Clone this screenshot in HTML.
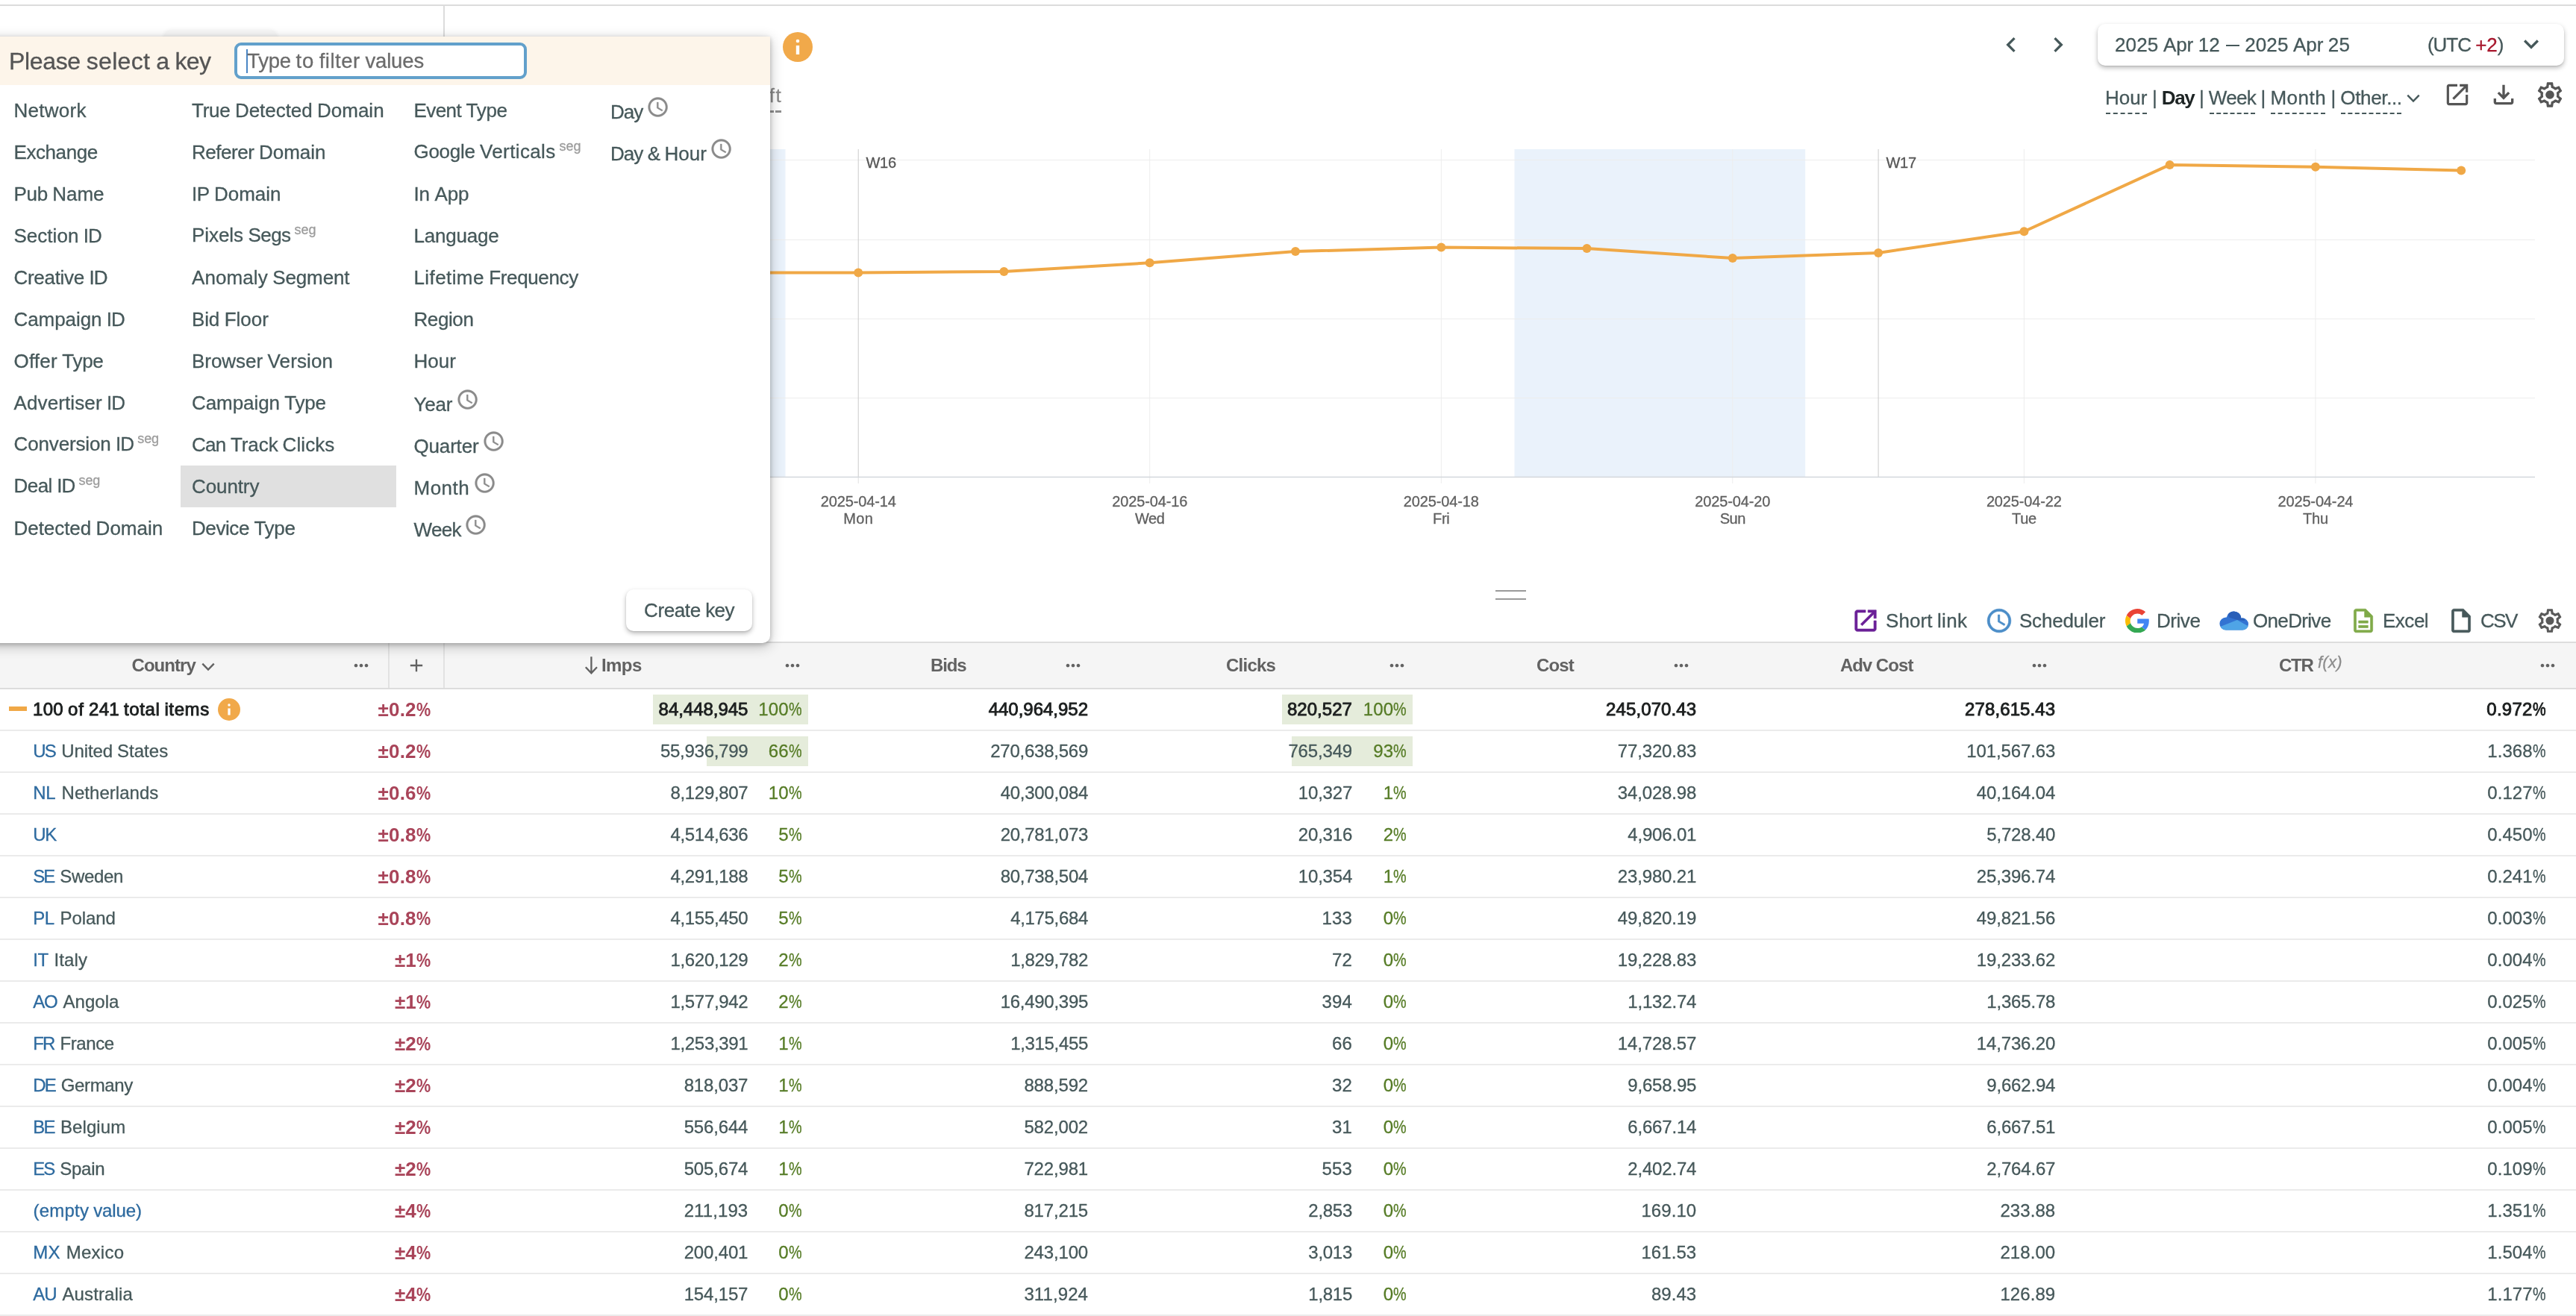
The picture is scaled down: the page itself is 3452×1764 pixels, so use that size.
<!DOCTYPE html>
<html><head><meta charset="utf-8"><title>Report</title>
<style>
html,body{margin:0;padding:0}
body{width:3452px;height:1764px;position:relative;overflow:hidden;background:#fff;font-family:"Liberation Sans",sans-serif;}
.t{position:absolute;white-space:pre;display:block;-webkit-text-stroke:0.3px}
.b{position:absolute;display:block}
#w{position:absolute;left:0;top:0;width:3452px;height:1764px;overflow:hidden;will-change:transform}
</style></head><body><div id="w">
<div class="b" style="left:0px;top:6px;width:3452px;height:2px;background:#dcdcdc;"></div>
<div class="b" style="left:594px;top:8px;width:2px;height:60px;background:#dcdcdc;"></div>
<div class="b" style="left:219px;top:40px;width:153px;height:30px;background:#f7f7f7;border-radius:11px;box-shadow:0 0 5px rgba(0,0,0,.06);"></div>
<span class="t" style="font-size:26px;line-height:26px;color:#8a8a8a;top:114.99px;left:1030.80px;letter-spacing:1.555px;">ft</span>
<div class="b" style="left:1032px;top:148px;width:5px;height:3px;background:#8f8f8f;"></div>
<div class="b" style="left:1039px;top:148px;width:8px;height:3px;background:#8f8f8f;"></div>
<svg class="b" style="left:1049.0px;top:43.0px" width="40" height="40" viewBox="-20 -20 40 40"><circle r="20" fill="#f1a94a"/><circle cy="-8" r="2.300" fill="#fff"/><rect x="-2.200" y="-2" width="4.400" height="12" fill="#fff"/></svg>
<svg class="b" style="left:0;top:0" width="3452" height="800" viewBox="0 0 3452 800"><rect x="900" y="200" width="152.5" height="439" fill="#eaf2fb"/><rect x="2029.5" y="200" width="389.7" height="439" fill="#eaf2fb"/><line x1="900" x2="3397" y1="214.5" y2="214.5" stroke="#ededed" stroke-width="1"/><line x1="900" x2="3397" y1="321.5" y2="321.5" stroke="#ededed" stroke-width="1"/><line x1="900" x2="3397" y1="427.5" y2="427.5" stroke="#ededed" stroke-width="1"/><line x1="900" x2="3397" y1="533.5" y2="533.5" stroke="#ededed" stroke-width="1"/><line x1="1540.7" x2="1540.7" y1="200" y2="648" stroke="#ededed" stroke-width="1"/><line x1="1931.3" x2="1931.3" y1="200" y2="648" stroke="#ededed" stroke-width="1"/><line x1="2321.8" x2="2321.8" y1="200" y2="648" stroke="#ededed" stroke-width="1"/><line x1="2712.4" x2="2712.4" y1="200" y2="648" stroke="#ededed" stroke-width="1"/><line x1="3102.9" x2="3102.9" y1="200" y2="648" stroke="#ededed" stroke-width="1"/><line x1="1150.2" x2="1150.2" y1="200" y2="639" stroke="#cacaca" stroke-width="1"/><line x1="1150.2" x2="1150.2" y1="639" y2="648" stroke="#e0e0e0" stroke-width="1"/><line x1="2517.1" x2="2517.1" y1="200" y2="639" stroke="#cacaca" stroke-width="1"/><line x1="900" x2="3397" y1="639.5" y2="639.5" stroke="#d3d7dc" stroke-width="1.4"/><polyline fill="none" stroke="#f0a846" stroke-width="4" stroke-linejoin="round" points="954.9,365.6 1150.2,365.4 1345.4,363.9 1540.7,352.3 1736,337.1 1931.3,331.6 2126.5,333.1 2321.8,346.1 2517.1,338.9 2712.4,310.2 2907.6,220.9 3102.9,223.7 3298.2,228.5"/><circle cx="954.9" cy="365.6" r="6" fill="#f0a846"/><circle cx="1150.2" cy="365.4" r="6" fill="#f0a846"/><circle cx="1345.4" cy="363.9" r="6" fill="#f0a846"/><circle cx="1540.7" cy="352.3" r="6" fill="#f0a846"/><circle cx="1736" cy="337.1" r="6" fill="#f0a846"/><circle cx="1931.3" cy="331.6" r="6" fill="#f0a846"/><circle cx="2126.5" cy="333.1" r="6" fill="#f0a846"/><circle cx="2321.8" cy="346.1" r="6" fill="#f0a846"/><circle cx="2517.1" cy="338.9" r="6" fill="#f0a846"/><circle cx="2712.4" cy="310.2" r="6" fill="#f0a846"/><circle cx="2907.6" cy="220.9" r="6" fill="#f0a846"/><circle cx="3102.9" cy="223.7" r="6" fill="#f0a846"/><circle cx="3298.2" cy="228.5" r="6" fill="#f0a846"/></svg>
<span class="t" style="font-size:20px;line-height:20px;color:#555;top:207.87px;left:1160.50px;letter-spacing:-0.302px;">W16</span>
<span class="t" style="font-size:20px;line-height:20px;color:#555;top:207.87px;left:2527.50px;letter-spacing:-0.302px;">W17</span>
<span class="t" style="font-size:20px;line-height:20px;color:#606060;top:662.07px;left:1099.73px;letter-spacing:-0.138px;">2025-04-14</span>
<span class="t" style="font-size:20px;line-height:20px;color:#606060;top:685.07px;left:1130.24px;letter-spacing:0.339px;">Mon</span>
<span class="t" style="font-size:20px;line-height:20px;color:#606060;top:662.07px;left:1490.27px;letter-spacing:-0.138px;">2025-04-16</span>
<span class="t" style="font-size:20px;line-height:20px;color:#606060;top:685.07px;left:1521.07px;letter-spacing:-0.474px;">Wed</span>
<span class="t" style="font-size:20px;line-height:20px;color:#606060;top:662.07px;left:1880.81px;letter-spacing:-0.138px;">2025-04-18</span>
<span class="t" style="font-size:20px;line-height:20px;color:#606060;top:685.07px;left:1920.05px;letter-spacing:-0.286px;">Fri</span>
<span class="t" style="font-size:20px;line-height:20px;color:#606060;top:662.07px;left:2271.35px;letter-spacing:-0.138px;">2025-04-20</span>
<span class="t" style="font-size:20px;line-height:20px;color:#606060;top:685.07px;left:2304.84px;letter-spacing:-0.547px;">Sun</span>
<span class="t" style="font-size:20px;line-height:20px;color:#606060;top:662.07px;left:2661.89px;letter-spacing:-0.138px;">2025-04-22</span>
<span class="t" style="font-size:20px;line-height:20px;color:#606060;top:685.07px;left:2696.03px;letter-spacing:-0.359px;">Tue</span>
<span class="t" style="font-size:20px;line-height:20px;color:#606060;top:662.07px;left:3052.43px;letter-spacing:-0.138px;">2025-04-24</span>
<span class="t" style="font-size:20px;line-height:20px;color:#606060;top:685.07px;left:3085.91px;letter-spacing:-0.161px;">Thu</span>
<div class="b" style="left:2004px;top:791px;width:41px;height:2px;background:#9a9a9a;"></div>
<div class="b" style="left:2004px;top:802px;width:41px;height:2px;background:#9a9a9a;"></div>
<svg class="b" style="left:2675px;top:39.9px;" width="40" height="40" viewBox="0 0 24 24"><path fill="#46585a" d="M15.41 7.41L14 6l-6 6 6 6 1.41-1.41L10.83 12z"/></svg>
<svg class="b" style="left:2738px;top:39.9px;" width="40" height="40" viewBox="0 0 24 24"><path fill="#46585a" d="M10 6L8.59 7.41 13.17 12l-4.58 4.59L10 18l6-6z"/></svg>
<div class="b" style="left:2811px;top:32px;width:625px;height:56px;background:#fff;border-radius:10px;box-shadow:0 3px 6px rgba(0,0,0,.27),0 1px 2px rgba(0,0,0,.10);"></div>
<span class="t" style="font-size:26px;line-height:26px;color:#46585a;top:47.19px;left:2834.00px;letter-spacing:0.156px;">2025</span>
<span class="t" style="font-size:26px;line-height:26px;color:#46585a;top:47.19px;left:2898.89px;letter-spacing:-0.026px;">Apr</span>
<span class="t" style="font-size:26px;line-height:26px;color:#46585a;top:47.19px;left:2945.72px;letter-spacing:0.156px;">12</span>
<div class="b" style="left:2983px;top:59.5px;width:18.2px;height:2px;background:#46585a;"></div>
<span class="t" style="font-size:26px;line-height:26px;color:#46585a;top:47.19px;left:3008.14px;letter-spacing:0.156px;">2025</span>
<span class="t" style="font-size:26px;line-height:26px;color:#46585a;top:47.19px;left:3073.03px;letter-spacing:-0.026px;">Apr</span>
<span class="t" style="font-size:26px;line-height:26px;color:#46585a;top:47.19px;left:3119.86px;letter-spacing:0.156px;">25</span>
<span class="t" style="font-size:26px;line-height:26px;color:#46585a;top:47.19px;left:3253.00px;letter-spacing:-1.062px;">(UTC</span>
<span class="t" style="font-size:26px;line-height:26px;color:#a8182e;top:47.19px;left:3317.30px;letter-spacing:-0.141px;">+2</span>
<span class="t" style="font-size:26px;line-height:26px;color:#46585a;top:47.19px;left:3346.66px;letter-spacing:0.391px;">)</span>
<svg class="b" style="left:3372.1px;top:39px;" width="40" height="40" viewBox="0 0 24 24"><path fill="#46585a" d="M16.59 8.59L12 13.17 7.41 8.59 6 10l6 6 6-6z"/></svg>
<span class="t" style="font-size:26px;line-height:26px;color:#46585a;top:117.99px;left:2821.00px;letter-spacing:0.043px;">Hour</span>
<div class="b" style="left:2822.0px;top:151px;width:54.5px;height:0;border-top:2px dashed #46585a"></div>
<span class="t" style="font-size:26px;line-height:26px;color:#46585a;top:117.99px;left:2883.97px;letter-spacing:-0.406px;">|</span>
<span class="t" style="font-size:26px;line-height:26px;color:#1d2424;top:117.99px;font-weight:700;-webkit-text-stroke:0;left:2896.77px;letter-spacing:-1.323px;">Day</span>
<span class="t" style="font-size:26px;line-height:26px;color:#46585a;top:117.99px;left:2946.94px;letter-spacing:-0.406px;">|</span>
<span class="t" style="font-size:26px;line-height:26px;color:#46585a;top:117.99px;left:2959.73px;letter-spacing:-0.645px;">Week</span>
<div class="b" style="left:2960.7px;top:151px;width:61.4px;height:0;border-top:2px dashed #46585a"></div>
<span class="t" style="font-size:26px;line-height:26px;color:#46585a;top:117.99px;left:3029.59px;letter-spacing:-0.406px;">|</span>
<span class="t" style="font-size:26px;line-height:26px;color:#46585a;top:117.99px;left:3042.39px;letter-spacing:0.497px;">Month</span>
<div class="b" style="left:3043.4px;top:151px;width:72.7px;height:0;border-top:2px dashed #46585a"></div>
<span class="t" style="font-size:26px;line-height:26px;color:#46585a;top:117.99px;left:3123.56px;letter-spacing:-0.406px;">|</span>
<span class="t" style="font-size:26px;line-height:26px;color:#46585a;top:117.99px;left:3136.36px;letter-spacing:-0.361px;">Other...</span>
<div class="b" style="left:3137.4px;top:151px;width:80.3px;height:0;border-top:2px dashed #46585a"></div>
<svg class="b" style="left:3222.2px;top:123.4px" width="24" height="20" viewBox="0 0 24 20"><path fill="none" stroke="#46585a" stroke-width="2.4" d="M4.3 4.700L12 12.5L19.7 4.700"/></svg>
<svg class="b" style="left:3274px;top:108px;" width="38" height="38" viewBox="0 0 24 24"><path fill="#555" d="M19 19H5V5h7V3H5c-1.11 0-2 .9-2 2v14c0 1.1.89 2 2 2h14c1.1 0 2-.9 2-2v-7h-2v7zM14 3v2h3.59l-9.83 9.83 1.41 1.41L19 6.41V10h2V3h-7z"/></svg>
<svg class="b" style="left:3335px;top:107px;" width="40" height="40" viewBox="0 0 24 24"><path fill="#555" d="M18 15v3H6v-3H4v3c0 1.1.9 2 2 2h12c1.1 0 2-.9 2-2v-3h-2zm-1-4l-1.41-1.41L13 12.17V4h-2v8.17L8.41 9.59 7 11l5 5 5-5z"/></svg>
<svg class="b" style="left:3396.6px;top:106.8px;" width="40" height="40" viewBox="0 0 24 24"><path fill="#555" d="M19.43 12.98c.04-.32.07-.64.07-.98 0-.34-.03-.66-.07-.98l2.11-1.65c.19-.15.24-.42.12-.64l-2-3.46c-.09-.16-.26-.25-.44-.25-.06 0-.12.01-.17.03l-2.49 1c-.52-.4-1.08-.73-1.69-.98l-.38-2.65C14.46 2.18 14.25 2 14 2h-4c-.25 0-.46.18-.49.42l-.38 2.65c-.61.25-1.17.59-1.69.98l-2.49-1c-.06-.02-.12-.03-.18-.03-.17 0-.34.09-.43.25l-2 3.46c-.13.22-.07.49.12.64l2.11 1.65c-.04.32-.07.65-.07.98 0 .33.03.66.07.98l-2.11 1.65c-.19.15-.24.42-.12.64l2 3.46c.09.16.26.25.44.25.06 0 .12-.01.17-.03l2.49-1c.52.4 1.08.73 1.69.98l.38 2.65c.03.24.24.42.49.42h4c.25 0 .46-.18.49-.42l.38-2.65c.61-.25 1.17-.59 1.69-.98l2.49 1c.06.02.12.03.18.03.17 0 .34-.09.43-.25l2-3.46c.12-.22.07-.49-.12-.64l-2.11-1.65zm-1.98-1.71c.04.31.05.52.05.73 0 .21-.02.43-.05.73l-.14 1.13.89.7 1.08.84-.7 1.21-1.27-.51-1.04-.42-.9.68c-.43.32-.84.56-1.25.73l-1.06.43-.16 1.13-.2 1.35h-1.4l-.19-1.35-.16-1.13-1.06-.43c-.43-.18-.83-.41-1.23-.71l-.91-.7-1.06.43-1.27.51-.7-1.21 1.08-.84.89-.7-.14-1.13c-.03-.31-.05-.54-.05-.74s.02-.43.05-.73l.14-1.13-.89-.7-1.08-.84.7-1.21 1.27.51 1.04.42.9-.68c.43-.32.84-.56 1.25-.73l1.06-.43.16-1.13.2-1.35h1.39l.19 1.35.16 1.13 1.06.43c.43.18.83.41 1.23.71l.91.7 1.06-.43 1.27-.51.7 1.21-1.07.85-.89.7.14 1.13zM12 8.500a3.500 3.500 0 1 0 0 7 3.500 3.500 0 0 0 0-7z"/></svg>
<svg class="b" style="left:2481.4px;top:813.1px;" width="38" height="38" viewBox="0 0 24 24"><path fill="#6a1f97" stroke="#6a1f97" stroke-width="0.4" d="M19 19H5V5h7V3H5c-1.11 0-2 .9-2 2v14c0 1.1.89 2 2 2h14c1.1 0 2-.9 2-2v-7h-2v7zM14 3v2h3.59l-9.83 9.83 1.41 1.41L19 6.41V10h2V3h-7z"/></svg>
<span class="t" style="font-size:26px;line-height:26px;color:#46585a;top:819.29px;left:2527.00px;letter-spacing:0.084px;">Short</span>
<span class="t" style="font-size:26px;line-height:26px;color:#46585a;top:819.29px;left:2596.00px;letter-spacing:0.293px;">link</span>
<svg class="b" style="left:2660.2px;top:813px;" width="38" height="38" viewBox="0 0 24 24"><path fill="#4b8dc8" stroke="#4b8dc8" stroke-width="0.4" d="M11.99 2C6.47 2 2 6.48 2 12s4.47 10 9.99 10C17.520 22 22 17.52 22 12S17.52 2 11.99 2zM12 20c-4.42 0-8-3.58-8-8s3.58-8 8-8 8 3.58 8 8-3.58 8-8 8zm.5-13H11v6l5.25 3.15.75-1.23-4.5-2.67z"/></svg>
<span class="t" style="font-size:26px;line-height:26px;color:#46585a;top:819.29px;left:2706.00px;letter-spacing:-0.220px;">Scheduler</span>
<svg class="b" style="left:2848px;top:815.8px" width="32.5" height="32.5" viewBox="0 0 48 48"><path fill="#EA4335" d="M24 9.5c3.54 0 6.71 1.22 9.21 3.6l6.85-6.85C35.9 2.38 30.47 0 24 0 14.62 0 6.51 5.38 2.56 13.22l7.98 6.19C12.43 13.72 17.74 9.5 24 9.5z"/><path fill="#4285F4" d="M46.98 24.55c0-1.57-.15-3.09-.38-4.55H24v9.02h12.94c-.58 2.96-2.26 5.48-4.78 7.18l7.73 6c4.51-4.18 7.09-10.36 7.09-17.65z"/><path fill="#FBBC05" d="M10.53 28.59c-.48-1.45-.76-2.99-.76-4.59s.27-3.14.76-4.59l-7.98-6.19C.92 16.46 0 20.12 0 24c0 3.88.92 7.54 2.56 10.78l7.97-6.190z"/><path fill="#34A853" d="M24 48c6.48 0 11.93-2.13 15.89-5.81l-7.73-6c-2.15 1.45-4.92 2.3-8.16 2.3-6.26 0-11.57-4.22-13.47-9.91l-7.98 6.19C6.51 42.62 14.62 48 24 48z"/></svg>
<span class="t" style="font-size:26px;line-height:26px;color:#46585a;top:819.29px;left:2890.00px;letter-spacing:-0.453px;">Drive</span>
<svg class="b" style="left:2974px;top:819px" width="40" height="26" viewBox="0 0 40 26"><defs><clipPath id="odc"><circle cx="9" cy="17" r="8.6"/><circle cx="19.5" cy="10.3" r="9.9"/><circle cx="31" cy="17.6" r="8"/><rect x="9" y="14" width="22" height="11.6"/></clipPath></defs><g clip-path="url(#odc)"><rect width="40" height="26" fill="#3273d2"/><path fill="#295fb8" d="M10 0H32L34 13 24 12 13 8.500z"/><path fill="#4fa4e6" d="M0 26V21.500L24 12 40 21V26z"/></g></svg>
<span class="t" style="font-size:26px;line-height:26px;color:#46585a;top:819.29px;left:3019.00px;letter-spacing:-0.670px;">OneDrive</span>
<svg class="b" style="left:3148px;top:813.2px;" width="38" height="38" viewBox="0 0 24 24"><path fill="#7faa48" stroke="#7faa48" stroke-width="0.35" d="M8 16h8v2H8zm0-4h8v2H8zm6-10H6c-1.1 0-2 .9-2 2v16c0 1.1.89 2 1.99 2H18c1.1 0 2-.9 2-2V8l-6-6zm4 18H6V4h7v5h5v11z"/></svg>
<span class="t" style="font-size:26px;line-height:26px;color:#46585a;top:819.29px;left:3193.00px;letter-spacing:-0.484px;">Excel</span>
<svg class="b" style="left:3279.2px;top:813.2px;" width="38" height="38" viewBox="0 0 24 24"><path fill="#46585a" stroke="#46585a" stroke-width="0.35" d="M14 2H6c-1.1 0-1.99.9-1.99 2L4 20c0 1.1.89 2 1.99 2H18c1.1 0 2-.9 2-2V8l-6-6zM6 20V4h7v5h5v11H6z"/></svg>
<span class="t" style="font-size:26px;line-height:26px;color:#46585a;top:819.29px;left:3324.00px;letter-spacing:-1.516px;">CSV</span>
<svg class="b" style="left:3398px;top:813px;" width="38" height="38" viewBox="0 0 24 24"><path fill="#5a5a5a" d="M19.43 12.98c.04-.32.07-.64.07-.98 0-.34-.03-.66-.07-.98l2.11-1.65c.19-.15.24-.42.12-.64l-2-3.46c-.09-.16-.26-.25-.44-.25-.06 0-.12.01-.17.03l-2.49 1c-.52-.4-1.08-.73-1.69-.98l-.38-2.65C14.46 2.18 14.25 2 14 2h-4c-.25 0-.46.18-.49.42l-.38 2.65c-.61.25-1.17.59-1.69.98l-2.49-1c-.06-.02-.12-.03-.18-.03-.17 0-.34.09-.43.25l-2 3.46c-.13.22-.07.49.12.64l2.11 1.65c-.04.32-.07.65-.07.98 0 .33.03.66.07.98l-2.11 1.65c-.19.15-.24.42-.12.64l2 3.46c.09.16.26.25.44.25.06 0 .12-.01.17-.03l2.49-1c.52.4 1.08.73 1.69.98l.38 2.65c.03.24.24.42.49.42h4c.25 0 .46-.18.49-.42l.38-2.65c.61-.25 1.17-.59 1.69-.98l2.49 1c.06.02.12.03.18.03.17 0 .34-.09.43-.25l2-3.46c.12-.22.07-.49-.12-.64l-2.11-1.65zm-1.98-1.71c.04.31.05.52.05.73 0 .21-.02.43-.05.73l-.14 1.13.89.7 1.08.84-.7 1.21-1.27-.51-1.04-.42-.9.68c-.43.32-.84.56-1.25.73l-1.06.43-.16 1.13-.2 1.35h-1.4l-.19-1.35-.16-1.13-1.06-.43c-.43-.18-.83-.41-1.23-.71l-.91-.7-1.06.43-1.27.51-.7-1.21 1.08-.84.89-.7-.14-1.13c-.03-.31-.05-.54-.05-.74s.02-.43.05-.73l.14-1.13-.89-.7-1.08-.84.7-1.21 1.27.51 1.04.42.9-.68c.43-.32.84-.56 1.25-.73l1.06-.43.16-1.13.2-1.35h1.39l.19 1.35.16 1.13 1.06.43c.43.18.83.41 1.23.71l.91.7 1.06-.43 1.27-.51.7 1.21-1.07.85-.89.7.14 1.13zM12 8.500a3.500 3.500 0 1 0 0 7 3.500 3.500 0 0 0 0-7z"/></svg>
<div class="b" style="left:0px;top:860px;width:3452px;height:2px;background:#dddddd;"></div>
<div class="b" style="left:0px;top:862px;width:3452px;height:60px;background:#f5f5f5;"></div>
<div class="b" style="left:0px;top:922px;width:3452px;height:2px;background:#dcdcdc;"></div>
<div class="b" style="left:520px;top:862px;width:2px;height:60px;background:#e2e2e2;"></div>
<div class="b" style="left:594px;top:862px;width:2px;height:60px;background:#e2e2e2;"></div>
<span class="t" style="font-size:24px;line-height:24px;color:#626262;top:879.68px;font-weight:700;-webkit-text-stroke:0;left:176.50px;letter-spacing:-0.951px;">Country</span>
<svg class="b" style="left:470px;top:878px;" width="28" height="28" viewBox="0 0 24 24"><path fill="#626262" d="M6 10c-1.1 0-2 .9-2 2s.9 2 2 2 2-.9 2-2-.9-2-2-2zm12 0c-1.1 0-2 .9-2 2s.9 2 2 2 2-.9 2-2-.9-2-2-2zm-6 0c-1.1 0-2 .9-2 2s.9 2 2 2 2-.9 2-2-.9-2-2-2z"/></svg>
<svg class="b" style="left:266.9px;top:885.2px" width="24" height="20" viewBox="0 0 24 20"><path fill="none" stroke="#626262" stroke-width="2.4" d="M4.3 4.700L12 12.5L19.7 4.700"/></svg>
<svg class="b" style="left:544px;top:878px;" width="28" height="28" viewBox="0 0 24 24"><path fill="#626262" d="M19 13h-6v6h-2v-6H5v-2h6V5h2v6h6v2z"/></svg>
<svg class="b" style="left:780px;top:876px" width="26" height="32" viewBox="780 876 26 32"><path fill="none" stroke="#626262" stroke-width="2.300" d="M792.400 880.300V901.800M784.800 894.300L792.400 902.400L800 894.300"/></svg>
<span class="t" style="font-size:24px;line-height:24px;color:#626262;top:879.68px;font-weight:700;-webkit-text-stroke:0;left:806.00px;letter-spacing:-0.586px;">Imps</span>
<svg class="b" style="left:1048px;top:878px;" width="28" height="28" viewBox="0 0 24 24"><path fill="#626262" d="M6 10c-1.1 0-2 .9-2 2s.9 2 2 2 2-.9 2-2-.9-2-2-2zm12 0c-1.1 0-2 .9-2 2s.9 2 2 2 2-.9 2-2-.9-2-2-2zm-6 0c-1.1 0-2 .9-2 2s.9 2 2 2 2-.9 2-2-.9-2-2-2z"/></svg>
<span class="t" style="font-size:24px;line-height:24px;color:#626262;top:879.68px;font-weight:700;-webkit-text-stroke:0;left:1247.00px;letter-spacing:-1.109px;">Bids</span>
<svg class="b" style="left:1424px;top:878px;" width="28" height="28" viewBox="0 0 24 24"><path fill="#626262" d="M6 10c-1.1 0-2 .9-2 2s.9 2 2 2 2-.9 2-2-.9-2-2-2zm12 0c-1.1 0-2 .9-2 2s.9 2 2 2 2-.9 2-2-.9-2-2-2zm-6 0c-1.1 0-2 .9-2 2s.9 2 2 2 2-.9 2-2-.9-2-2-2z"/></svg>
<span class="t" style="font-size:24px;line-height:24px;color:#626262;top:879.68px;font-weight:700;-webkit-text-stroke:0;left:1643.00px;letter-spacing:-0.758px;">Clicks</span>
<svg class="b" style="left:1858px;top:878px;" width="28" height="28" viewBox="0 0 24 24"><path fill="#626262" d="M6 10c-1.1 0-2 .9-2 2s.9 2 2 2 2-.9 2-2-.9-2-2-2zm12 0c-1.1 0-2 .9-2 2s.9 2 2 2 2-.9 2-2-.9-2-2-2zm-6 0c-1.1 0-2 .9-2 2s.9 2 2 2 2-.9 2-2-.9-2-2-2z"/></svg>
<span class="t" style="font-size:24px;line-height:24px;color:#626262;top:879.68px;font-weight:700;-webkit-text-stroke:0;left:2059.00px;letter-spacing:-0.891px;">Cost</span>
<svg class="b" style="left:2239px;top:878px;" width="28" height="28" viewBox="0 0 24 24"><path fill="#626262" d="M6 10c-1.1 0-2 .9-2 2s.9 2 2 2 2-.9 2-2-.9-2-2-2zm12 0c-1.1 0-2 .9-2 2s.9 2 2 2 2-.9 2-2-.9-2-2-2zm-6 0c-1.1 0-2 .9-2 2s.9 2 2 2 2-.9 2-2-.9-2-2-2z"/></svg>
<span class="t" style="font-size:24px;line-height:24px;color:#626262;top:879.68px;font-weight:700;-webkit-text-stroke:0;left:2466.00px;letter-spacing:-1.167px;">Adv</span>
<span class="t" style="font-size:24px;line-height:24px;color:#626262;top:879.68px;font-weight:700;-webkit-text-stroke:0;left:2513.81px;letter-spacing:-0.891px;">Cost</span>
<svg class="b" style="left:2719px;top:878px;" width="28" height="28" viewBox="0 0 24 24"><path fill="#626262" d="M6 10c-1.1 0-2 .9-2 2s.9 2 2 2 2-.9 2-2-.9-2-2-2zm12 0c-1.1 0-2 .9-2 2s.9 2 2 2 2-.9 2-2-.9-2-2-2zm-6 0c-1.1 0-2 .9-2 2s.9 2 2 2 2-.9 2-2-.9-2-2-2z"/></svg>
<span class="t" style="font-size:24px;line-height:24px;color:#626262;top:879.68px;font-weight:700;-webkit-text-stroke:0;left:3054.00px;letter-spacing:-1.260px;">CTR</span>
<svg class="b" style="left:3400px;top:878px;" width="28" height="28" viewBox="0 0 24 24"><path fill="#626262" d="M6 10c-1.1 0-2 .9-2 2s.9 2 2 2 2-.9 2-2-.9-2-2-2zm12 0c-1.1 0-2 .9-2 2s.9 2 2 2 2-.9 2-2-.9-2-2-2zm-6 0c-1.1 0-2 .9-2 2s.9 2 2 2 2-.9 2-2-.9-2-2-2z"/></svg>
<span class="t" style="font-size:22px;line-height:22px;color:#8c8c8c;top:877.38px;font-style:italic;left:3106.00px;letter-spacing:0.250px;">f(x)</span>
<div class="b" style="left:0px;top:978px;width:3452px;height:2px;background:#ebebeb;"></div>
<div class="b" style="left:875px;top:931px;width:208px;height:40px;background:#e5ecdb;"></div>
<div class="b" style="left:1718px;top:931px;width:175px;height:40px;background:#e5ecdb;"></div>
<div class="b" style="left:12px;top:947px;width:24px;height:6px;background:#f0a846;"></div>
<span class="t" style="font-size:24px;line-height:24px;color:#1c1f1f;top:938.68px;-webkit-text-stroke:0.9px;left:44.00px;letter-spacing:0.297px;">100</span>
<span class="t" style="font-size:24px;line-height:24px;color:#1c1f1f;top:938.68px;-webkit-text-stroke:0.9px;left:90.91px;letter-spacing:1.086px;">of</span>
<span class="t" style="font-size:24px;line-height:24px;color:#1c1f1f;top:938.68px;-webkit-text-stroke:0.9px;left:119.08px;letter-spacing:0.297px;">241</span>
<span class="t" style="font-size:24px;line-height:24px;color:#1c1f1f;top:938.68px;-webkit-text-stroke:0.9px;left:165.98px;letter-spacing:0.622px;">total</span>
<span class="t" style="font-size:24px;line-height:24px;color:#1c1f1f;top:938.68px;-webkit-text-stroke:0.9px;left:220.44px;letter-spacing:0.594px;">items</span>
<svg class="b" style="left:292.0px;top:936.0px" width="30" height="30" viewBox="-20 -20 40 40"><circle r="20" fill="#f1a94a"/><circle cy="-8" r="2.300" fill="#fff"/><rect x="-2.200" y="-2" width="4.400" height="12" fill="#fff"/></svg>
<span class="t" style="font-size:26px;line-height:26px;color:#a94459;top:937.99px;font-weight:700;-webkit-text-stroke:0;left:506.41px;letter-spacing:0.250px;">±0.2</span>
<span class="t" style="font-size:26px;line-height:26px;color:#a94459;top:937.99px;font-weight:700;-webkit-text-stroke:0;left:557.80px;transform:scaleX(0.830);transform-origin:0 0;">%</span>
<span class="t" style="font-size:24px;line-height:24px;color:#1c1f1f;top:938.68px;-webkit-text-stroke:0.9px;left:882.61px;letter-spacing:-0.041px;">84,448,945</span>
<span class="t" style="font-size:24px;line-height:24px;color:#567c26;top:938.68px;left:1016.17px;letter-spacing:0.141px;">100</span>
<span class="t" style="font-size:24px;line-height:24px;color:#567c26;top:938.68px;left:1056.62px;transform:scaleX(0.824);transform-origin:0 0;">%</span>
<span class="t" style="font-size:24px;line-height:24px;color:#1c1f1f;top:938.68px;-webkit-text-stroke:0.9px;left:1324.67px;letter-spacing:-0.010px;">440,964,952</span>
<span class="t" style="font-size:24px;line-height:24px;color:#1c1f1f;top:938.68px;-webkit-text-stroke:0.9px;left:1724.88px;letter-spacing:0.056px;">820,527</span>
<span class="t" style="font-size:24px;line-height:24px;color:#567c26;top:938.68px;left:1826.87px;letter-spacing:0.141px;">100</span>
<span class="t" style="font-size:24px;line-height:24px;color:#567c26;top:938.68px;left:1867.32px;transform:scaleX(0.824);transform-origin:0 0;">%</span>
<span class="t" style="font-size:24px;line-height:24px;color:#1c1f1f;top:938.68px;-webkit-text-stroke:0.9px;left:2152.09px;letter-spacing:0.102px;">245,070.43</span>
<span class="t" style="font-size:24px;line-height:24px;color:#1c1f1f;top:938.68px;-webkit-text-stroke:0.9px;left:2633.09px;letter-spacing:0.102px;">278,615.43</span>
<span class="t" style="font-size:24px;line-height:24px;color:#1c1f1f;top:938.68px;-webkit-text-stroke:0.9px;left:3332.31px;letter-spacing:0.244px;">0.972</span>
<span class="t" style="font-size:24px;line-height:24px;color:#1c1f1f;top:938.68px;-webkit-text-stroke:0.9px;left:3393.57px;transform:scaleX(0.826);transform-origin:0 0;">%</span>
<div class="b" style="left:0px;top:1034px;width:3452px;height:2px;background:#ebebeb;"></div>
<div class="b" style="left:947px;top:987px;width:136px;height:40px;background:#e5ecdb;"></div>
<div class="b" style="left:1730.5px;top:987px;width:162.5px;height:40px;background:#e5ecdb;"></div>
<span class="t" style="font-size:24px;line-height:24px;color:#2d6a9f;top:994.68px;left:44.30px;letter-spacing:-1.766px;">US</span>
<span class="t" style="font-size:24px;line-height:24px;color:#46585a;top:994.68px;left:82.27px;letter-spacing:-0.096px;">United</span>
<span class="t" style="font-size:24px;line-height:24px;color:#46585a;top:994.68px;left:157.00px;letter-spacing:0.018px;">States</span>
<span class="t" style="font-size:26px;line-height:26px;color:#a94459;top:993.99px;font-weight:700;-webkit-text-stroke:0;left:506.41px;letter-spacing:0.250px;">±0.2</span>
<span class="t" style="font-size:26px;line-height:26px;color:#a94459;top:993.99px;font-weight:700;-webkit-text-stroke:0;left:557.80px;transform:scaleX(0.830);transform-origin:0 0;">%</span>
<span class="t" style="font-size:24px;line-height:24px;color:#46585a;top:994.68px;left:884.99px;letter-spacing:-0.278px;">55,936,799</span>
<span class="t" style="font-size:24px;line-height:24px;color:#567c26;top:994.68px;left:1029.65px;letter-spacing:0.141px;">66</span>
<span class="t" style="font-size:24px;line-height:24px;color:#567c26;top:994.68px;left:1056.62px;transform:scaleX(0.824);transform-origin:0 0;">%</span>
<span class="t" style="font-size:24px;line-height:24px;color:#46585a;top:994.68px;left:1327.20px;letter-spacing:-0.240px;">270,638,569</span>
<span class="t" style="font-size:24px;line-height:24px;color:#46585a;top:994.68px;left:1726.38px;letter-spacing:-0.158px;">765,349</span>
<span class="t" style="font-size:24px;line-height:24px;color:#567c26;top:994.68px;left:1840.35px;letter-spacing:0.141px;">93</span>
<span class="t" style="font-size:24px;line-height:24px;color:#567c26;top:994.68px;left:1867.32px;transform:scaleX(0.824);transform-origin:0 0;">%</span>
<span class="t" style="font-size:24px;line-height:24px;color:#46585a;top:994.68px;left:2167.76px;letter-spacing:-0.146px;">77,320.83</span>
<span class="t" style="font-size:24px;line-height:24px;color:#46585a;top:994.68px;left:2635.28px;letter-spacing:-0.117px;">101,567.63</span>
<span class="t" style="font-size:24px;line-height:24px;color:#46585a;top:994.68px;left:3333.36px;letter-spacing:0.044px;">1.368</span>
<span class="t" style="font-size:24px;line-height:24px;color:#46585a;top:994.68px;left:3393.62px;transform:scaleX(0.824);transform-origin:0 0;">%</span>
<div class="b" style="left:0px;top:1090px;width:3452px;height:2px;background:#ebebeb;"></div>
<span class="t" style="font-size:24px;line-height:24px;color:#2d6a9f;top:1050.68px;left:44.30px;letter-spacing:-0.312px;">NL</span>
<span class="t" style="font-size:24px;line-height:24px;color:#46585a;top:1050.68px;left:82.50px;letter-spacing:0.045px;">Netherlands</span>
<span class="t" style="font-size:26px;line-height:26px;color:#a94459;top:1049.99px;font-weight:700;-webkit-text-stroke:0;left:506.41px;letter-spacing:0.250px;">±0.6</span>
<span class="t" style="font-size:26px;line-height:26px;color:#a94459;top:1049.99px;font-weight:700;-webkit-text-stroke:0;left:557.80px;transform:scaleX(0.830);transform-origin:0 0;">%</span>
<span class="t" style="font-size:24px;line-height:24px;color:#46585a;top:1050.68px;left:898.47px;letter-spacing:-0.325px;">8,129,807</span>
<span class="t" style="font-size:24px;line-height:24px;color:#567c26;top:1050.68px;left:1029.65px;letter-spacing:0.141px;">10</span>
<span class="t" style="font-size:24px;line-height:24px;color:#567c26;top:1050.68px;left:1056.62px;transform:scaleX(0.824);transform-origin:0 0;">%</span>
<span class="t" style="font-size:24px;line-height:24px;color:#46585a;top:1050.68px;left:1340.69px;letter-spacing:-0.278px;">40,300,084</span>
<span class="t" style="font-size:24px;line-height:24px;color:#46585a;top:1050.68px;left:1739.86px;letter-spacing:-0.208px;">10,327</span>
<span class="t" style="font-size:24px;line-height:24px;color:#567c26;top:1050.68px;left:1853.84px;letter-spacing:0.141px;">1</span>
<span class="t" style="font-size:24px;line-height:24px;color:#567c26;top:1050.68px;left:1867.32px;transform:scaleX(0.824);transform-origin:0 0;">%</span>
<span class="t" style="font-size:24px;line-height:24px;color:#46585a;top:1050.68px;left:2167.76px;letter-spacing:-0.146px;">34,028.98</span>
<span class="t" style="font-size:24px;line-height:24px;color:#46585a;top:1050.68px;left:2648.76px;letter-spacing:-0.146px;">40,164.04</span>
<span class="t" style="font-size:24px;line-height:24px;color:#46585a;top:1050.68px;left:3333.36px;letter-spacing:0.044px;">0.127</span>
<span class="t" style="font-size:24px;line-height:24px;color:#46585a;top:1050.68px;left:3393.62px;transform:scaleX(0.824);transform-origin:0 0;">%</span>
<div class="b" style="left:0px;top:1146px;width:3452px;height:2px;background:#ebebeb;"></div>
<span class="t" style="font-size:24px;line-height:24px;color:#2d6a9f;top:1106.68px;left:44.30px;letter-spacing:-1.359px;">UK</span>
<span class="t" style="font-size:26px;line-height:26px;color:#a94459;top:1105.99px;font-weight:700;-webkit-text-stroke:0;left:506.41px;letter-spacing:0.250px;">±0.8</span>
<span class="t" style="font-size:26px;line-height:26px;color:#a94459;top:1105.99px;font-weight:700;-webkit-text-stroke:0;left:557.80px;transform:scaleX(0.830);transform-origin:0 0;">%</span>
<span class="t" style="font-size:24px;line-height:24px;color:#46585a;top:1106.68px;left:898.47px;letter-spacing:-0.325px;">4,514,636</span>
<span class="t" style="font-size:24px;line-height:24px;color:#567c26;top:1106.68px;left:1043.14px;letter-spacing:0.141px;">5</span>
<span class="t" style="font-size:24px;line-height:24px;color:#567c26;top:1106.68px;left:1056.62px;transform:scaleX(0.824);transform-origin:0 0;">%</span>
<span class="t" style="font-size:24px;line-height:24px;color:#46585a;top:1106.68px;left:1340.69px;letter-spacing:-0.278px;">20,781,073</span>
<span class="t" style="font-size:24px;line-height:24px;color:#46585a;top:1106.68px;left:1739.86px;letter-spacing:-0.208px;">20,316</span>
<span class="t" style="font-size:24px;line-height:24px;color:#567c26;top:1106.68px;left:1853.84px;letter-spacing:0.141px;">2</span>
<span class="t" style="font-size:24px;line-height:24px;color:#567c26;top:1106.68px;left:1867.32px;transform:scaleX(0.824);transform-origin:0 0;">%</span>
<span class="t" style="font-size:24px;line-height:24px;color:#46585a;top:1106.68px;left:2181.25px;letter-spacing:-0.182px;">4,906.01</span>
<span class="t" style="font-size:24px;line-height:24px;color:#46585a;top:1106.68px;left:2662.25px;letter-spacing:-0.182px;">5,728.40</span>
<span class="t" style="font-size:24px;line-height:24px;color:#46585a;top:1106.68px;left:3333.36px;letter-spacing:0.044px;">0.450</span>
<span class="t" style="font-size:24px;line-height:24px;color:#46585a;top:1106.68px;left:3393.62px;transform:scaleX(0.824);transform-origin:0 0;">%</span>
<div class="b" style="left:0px;top:1202px;width:3452px;height:2px;background:#ebebeb;"></div>
<span class="t" style="font-size:24px;line-height:24px;color:#2d6a9f;top:1162.68px;left:44.30px;letter-spacing:-2.070px;">SE</span>
<span class="t" style="font-size:24px;line-height:24px;color:#46585a;top:1162.68px;left:80.34px;letter-spacing:-0.365px;">Sweden</span>
<span class="t" style="font-size:26px;line-height:26px;color:#a94459;top:1161.99px;font-weight:700;-webkit-text-stroke:0;left:506.41px;letter-spacing:0.250px;">±0.8</span>
<span class="t" style="font-size:26px;line-height:26px;color:#a94459;top:1161.99px;font-weight:700;-webkit-text-stroke:0;left:557.80px;transform:scaleX(0.830);transform-origin:0 0;">%</span>
<span class="t" style="font-size:24px;line-height:24px;color:#46585a;top:1162.68px;left:898.47px;letter-spacing:-0.325px;">4,291,188</span>
<span class="t" style="font-size:24px;line-height:24px;color:#567c26;top:1162.68px;left:1043.14px;letter-spacing:0.141px;">5</span>
<span class="t" style="font-size:24px;line-height:24px;color:#567c26;top:1162.68px;left:1056.62px;transform:scaleX(0.824);transform-origin:0 0;">%</span>
<span class="t" style="font-size:24px;line-height:24px;color:#46585a;top:1162.68px;left:1340.69px;letter-spacing:-0.278px;">80,738,504</span>
<span class="t" style="font-size:24px;line-height:24px;color:#46585a;top:1162.68px;left:1739.86px;letter-spacing:-0.208px;">10,354</span>
<span class="t" style="font-size:24px;line-height:24px;color:#567c26;top:1162.68px;left:1853.84px;letter-spacing:0.141px;">1</span>
<span class="t" style="font-size:24px;line-height:24px;color:#567c26;top:1162.68px;left:1867.32px;transform:scaleX(0.824);transform-origin:0 0;">%</span>
<span class="t" style="font-size:24px;line-height:24px;color:#46585a;top:1162.68px;left:2167.76px;letter-spacing:-0.146px;">23,980.21</span>
<span class="t" style="font-size:24px;line-height:24px;color:#46585a;top:1162.68px;left:2648.76px;letter-spacing:-0.146px;">25,396.74</span>
<span class="t" style="font-size:24px;line-height:24px;color:#46585a;top:1162.68px;left:3333.36px;letter-spacing:0.044px;">0.241</span>
<span class="t" style="font-size:24px;line-height:24px;color:#46585a;top:1162.68px;left:3393.62px;transform:scaleX(0.824);transform-origin:0 0;">%</span>
<div class="b" style="left:0px;top:1258px;width:3452px;height:2px;background:#ebebeb;"></div>
<span class="t" style="font-size:24px;line-height:24px;color:#2d6a9f;top:1218.68px;left:44.30px;letter-spacing:-0.648px;">PL</span>
<span class="t" style="font-size:24px;line-height:24px;color:#46585a;top:1218.68px;left:80.52px;letter-spacing:-0.060px;">Poland</span>
<span class="t" style="font-size:26px;line-height:26px;color:#a94459;top:1217.99px;font-weight:700;-webkit-text-stroke:0;left:506.41px;letter-spacing:0.250px;">±0.8</span>
<span class="t" style="font-size:26px;line-height:26px;color:#a94459;top:1217.99px;font-weight:700;-webkit-text-stroke:0;left:557.80px;transform:scaleX(0.830);transform-origin:0 0;">%</span>
<span class="t" style="font-size:24px;line-height:24px;color:#46585a;top:1218.68px;left:898.47px;letter-spacing:-0.325px;">4,155,450</span>
<span class="t" style="font-size:24px;line-height:24px;color:#567c26;top:1218.68px;left:1043.14px;letter-spacing:0.141px;">5</span>
<span class="t" style="font-size:24px;line-height:24px;color:#567c26;top:1218.68px;left:1056.62px;transform:scaleX(0.824);transform-origin:0 0;">%</span>
<span class="t" style="font-size:24px;line-height:24px;color:#46585a;top:1218.68px;left:1354.17px;letter-spacing:-0.325px;">4,175,684</span>
<span class="t" style="font-size:24px;line-height:24px;color:#46585a;top:1218.68px;left:1771.55px;letter-spacing:0.141px;">133</span>
<span class="t" style="font-size:24px;line-height:24px;color:#567c26;top:1218.68px;left:1853.84px;letter-spacing:0.141px;">0</span>
<span class="t" style="font-size:24px;line-height:24px;color:#567c26;top:1218.68px;left:1867.32px;transform:scaleX(0.824);transform-origin:0 0;">%</span>
<span class="t" style="font-size:24px;line-height:24px;color:#46585a;top:1218.68px;left:2167.76px;letter-spacing:-0.146px;">49,820.19</span>
<span class="t" style="font-size:24px;line-height:24px;color:#46585a;top:1218.68px;left:2648.76px;letter-spacing:-0.146px;">49,821.56</span>
<span class="t" style="font-size:24px;line-height:24px;color:#46585a;top:1218.68px;left:3333.36px;letter-spacing:0.044px;">0.003</span>
<span class="t" style="font-size:24px;line-height:24px;color:#46585a;top:1218.68px;left:3393.62px;transform:scaleX(0.824);transform-origin:0 0;">%</span>
<div class="b" style="left:0px;top:1314px;width:3452px;height:2px;background:#ebebeb;"></div>
<span class="t" style="font-size:24px;line-height:24px;color:#2d6a9f;top:1274.68px;left:44.30px;letter-spacing:-0.406px;">IT</span>
<span class="t" style="font-size:24px;line-height:24px;color:#46585a;top:1274.68px;left:72.50px;letter-spacing:0.128px;">Italy</span>
<span class="t" style="font-size:26px;line-height:26px;color:#a94459;top:1273.99px;font-weight:700;-webkit-text-stroke:0;left:528.89px;letter-spacing:0.094px;">±1</span>
<span class="t" style="font-size:26px;line-height:26px;color:#a94459;top:1273.99px;font-weight:700;-webkit-text-stroke:0;left:557.80px;transform:scaleX(0.830);transform-origin:0 0;">%</span>
<span class="t" style="font-size:24px;line-height:24px;color:#46585a;top:1274.68px;left:898.47px;letter-spacing:-0.325px;">1,620,129</span>
<span class="t" style="font-size:24px;line-height:24px;color:#567c26;top:1274.68px;left:1043.14px;letter-spacing:0.141px;">2</span>
<span class="t" style="font-size:24px;line-height:24px;color:#567c26;top:1274.68px;left:1056.62px;transform:scaleX(0.824);transform-origin:0 0;">%</span>
<span class="t" style="font-size:24px;line-height:24px;color:#46585a;top:1274.68px;left:1354.17px;letter-spacing:-0.325px;">1,829,782</span>
<span class="t" style="font-size:24px;line-height:24px;color:#46585a;top:1274.68px;left:1785.03px;letter-spacing:0.141px;">72</span>
<span class="t" style="font-size:24px;line-height:24px;color:#567c26;top:1274.68px;left:1853.84px;letter-spacing:0.141px;">0</span>
<span class="t" style="font-size:24px;line-height:24px;color:#567c26;top:1274.68px;left:1867.32px;transform:scaleX(0.824);transform-origin:0 0;">%</span>
<span class="t" style="font-size:24px;line-height:24px;color:#46585a;top:1274.68px;left:2167.76px;letter-spacing:-0.146px;">19,228.83</span>
<span class="t" style="font-size:24px;line-height:24px;color:#46585a;top:1274.68px;left:2648.76px;letter-spacing:-0.146px;">19,233.62</span>
<span class="t" style="font-size:24px;line-height:24px;color:#46585a;top:1274.68px;left:3333.36px;letter-spacing:0.044px;">0.004</span>
<span class="t" style="font-size:24px;line-height:24px;color:#46585a;top:1274.68px;left:3393.62px;transform:scaleX(0.824);transform-origin:0 0;">%</span>
<div class="b" style="left:0px;top:1370px;width:3452px;height:2px;background:#ebebeb;"></div>
<span class="t" style="font-size:24px;line-height:24px;color:#2d6a9f;top:1330.68px;left:44.30px;letter-spacing:-1.320px;">AO</span>
<span class="t" style="font-size:24px;line-height:24px;color:#46585a;top:1330.68px;left:84.50px;letter-spacing:0.044px;">Angola</span>
<span class="t" style="font-size:26px;line-height:26px;color:#a94459;top:1329.99px;font-weight:700;-webkit-text-stroke:0;left:528.89px;letter-spacing:0.094px;">±1</span>
<span class="t" style="font-size:26px;line-height:26px;color:#a94459;top:1329.99px;font-weight:700;-webkit-text-stroke:0;left:557.80px;transform:scaleX(0.830);transform-origin:0 0;">%</span>
<span class="t" style="font-size:24px;line-height:24px;color:#46585a;top:1330.68px;left:898.47px;letter-spacing:-0.325px;">1,577,942</span>
<span class="t" style="font-size:24px;line-height:24px;color:#567c26;top:1330.68px;left:1043.14px;letter-spacing:0.141px;">2</span>
<span class="t" style="font-size:24px;line-height:24px;color:#567c26;top:1330.68px;left:1056.62px;transform:scaleX(0.824);transform-origin:0 0;">%</span>
<span class="t" style="font-size:24px;line-height:24px;color:#46585a;top:1330.68px;left:1340.69px;letter-spacing:-0.278px;">16,490,395</span>
<span class="t" style="font-size:24px;line-height:24px;color:#46585a;top:1330.68px;left:1771.55px;letter-spacing:0.141px;">394</span>
<span class="t" style="font-size:24px;line-height:24px;color:#567c26;top:1330.68px;left:1853.84px;letter-spacing:0.141px;">0</span>
<span class="t" style="font-size:24px;line-height:24px;color:#567c26;top:1330.68px;left:1867.32px;transform:scaleX(0.824);transform-origin:0 0;">%</span>
<span class="t" style="font-size:24px;line-height:24px;color:#46585a;top:1330.68px;left:2181.25px;letter-spacing:-0.182px;">1,132.74</span>
<span class="t" style="font-size:24px;line-height:24px;color:#46585a;top:1330.68px;left:2662.25px;letter-spacing:-0.182px;">1,365.78</span>
<span class="t" style="font-size:24px;line-height:24px;color:#46585a;top:1330.68px;left:3333.36px;letter-spacing:0.044px;">0.025</span>
<span class="t" style="font-size:24px;line-height:24px;color:#46585a;top:1330.68px;left:3393.62px;transform:scaleX(0.824);transform-origin:0 0;">%</span>
<div class="b" style="left:0px;top:1426px;width:3452px;height:2px;background:#ebebeb;"></div>
<span class="t" style="font-size:24px;line-height:24px;color:#2d6a9f;top:1386.68px;left:44.30px;letter-spacing:-1.961px;">FR</span>
<span class="t" style="font-size:24px;line-height:24px;color:#46585a;top:1386.68px;left:80.52px;letter-spacing:-0.406px;">France</span>
<span class="t" style="font-size:26px;line-height:26px;color:#a94459;top:1385.99px;font-weight:700;-webkit-text-stroke:0;left:528.89px;letter-spacing:0.094px;">±2</span>
<span class="t" style="font-size:26px;line-height:26px;color:#a94459;top:1385.99px;font-weight:700;-webkit-text-stroke:0;left:557.80px;transform:scaleX(0.830);transform-origin:0 0;">%</span>
<span class="t" style="font-size:24px;line-height:24px;color:#46585a;top:1386.68px;left:898.47px;letter-spacing:-0.325px;">1,253,391</span>
<span class="t" style="font-size:24px;line-height:24px;color:#567c26;top:1386.68px;left:1043.14px;letter-spacing:0.141px;">1</span>
<span class="t" style="font-size:24px;line-height:24px;color:#567c26;top:1386.68px;left:1056.62px;transform:scaleX(0.824);transform-origin:0 0;">%</span>
<span class="t" style="font-size:24px;line-height:24px;color:#46585a;top:1386.68px;left:1354.17px;letter-spacing:-0.325px;">1,315,455</span>
<span class="t" style="font-size:24px;line-height:24px;color:#46585a;top:1386.68px;left:1785.03px;letter-spacing:0.141px;">66</span>
<span class="t" style="font-size:24px;line-height:24px;color:#567c26;top:1386.68px;left:1853.84px;letter-spacing:0.141px;">0</span>
<span class="t" style="font-size:24px;line-height:24px;color:#567c26;top:1386.68px;left:1867.32px;transform:scaleX(0.824);transform-origin:0 0;">%</span>
<span class="t" style="font-size:24px;line-height:24px;color:#46585a;top:1386.68px;left:2167.76px;letter-spacing:-0.146px;">14,728.57</span>
<span class="t" style="font-size:24px;line-height:24px;color:#46585a;top:1386.68px;left:2648.76px;letter-spacing:-0.146px;">14,736.20</span>
<span class="t" style="font-size:24px;line-height:24px;color:#46585a;top:1386.68px;left:3333.36px;letter-spacing:0.044px;">0.005</span>
<span class="t" style="font-size:24px;line-height:24px;color:#46585a;top:1386.68px;left:3393.62px;transform:scaleX(0.824);transform-origin:0 0;">%</span>
<div class="b" style="left:0px;top:1482px;width:3452px;height:2px;background:#ebebeb;"></div>
<span class="t" style="font-size:24px;line-height:24px;color:#2d6a9f;top:1442.68px;left:44.30px;letter-spacing:-1.977px;">DE</span>
<span class="t" style="font-size:24px;line-height:24px;color:#46585a;top:1442.68px;left:81.84px;letter-spacing:-0.395px;">Germany</span>
<span class="t" style="font-size:26px;line-height:26px;color:#a94459;top:1441.99px;font-weight:700;-webkit-text-stroke:0;left:528.89px;letter-spacing:0.094px;">±2</span>
<span class="t" style="font-size:26px;line-height:26px;color:#a94459;top:1441.99px;font-weight:700;-webkit-text-stroke:0;left:557.80px;transform:scaleX(0.830);transform-origin:0 0;">%</span>
<span class="t" style="font-size:24px;line-height:24px;color:#46585a;top:1442.68px;left:916.67px;letter-spacing:-0.158px;">818,037</span>
<span class="t" style="font-size:24px;line-height:24px;color:#567c26;top:1442.68px;left:1043.14px;letter-spacing:0.141px;">1</span>
<span class="t" style="font-size:24px;line-height:24px;color:#567c26;top:1442.68px;left:1056.62px;transform:scaleX(0.824);transform-origin:0 0;">%</span>
<span class="t" style="font-size:24px;line-height:24px;color:#46585a;top:1442.68px;left:1372.38px;letter-spacing:-0.158px;">888,592</span>
<span class="t" style="font-size:24px;line-height:24px;color:#46585a;top:1442.68px;left:1785.03px;letter-spacing:0.141px;">32</span>
<span class="t" style="font-size:24px;line-height:24px;color:#567c26;top:1442.68px;left:1853.84px;letter-spacing:0.141px;">0</span>
<span class="t" style="font-size:24px;line-height:24px;color:#567c26;top:1442.68px;left:1867.32px;transform:scaleX(0.824);transform-origin:0 0;">%</span>
<span class="t" style="font-size:24px;line-height:24px;color:#46585a;top:1442.68px;left:2181.25px;letter-spacing:-0.182px;">9,658.95</span>
<span class="t" style="font-size:24px;line-height:24px;color:#46585a;top:1442.68px;left:2662.25px;letter-spacing:-0.182px;">9,662.94</span>
<span class="t" style="font-size:24px;line-height:24px;color:#46585a;top:1442.68px;left:3333.36px;letter-spacing:0.044px;">0.004</span>
<span class="t" style="font-size:24px;line-height:24px;color:#46585a;top:1442.68px;left:3393.62px;transform:scaleX(0.824);transform-origin:0 0;">%</span>
<div class="b" style="left:0px;top:1538px;width:3452px;height:2px;background:#ebebeb;"></div>
<span class="t" style="font-size:24px;line-height:24px;color:#2d6a9f;top:1498.68px;left:44.30px;letter-spacing:-1.719px;">BE</span>
<span class="t" style="font-size:24px;line-height:24px;color:#46585a;top:1498.68px;left:81.05px;letter-spacing:0.062px;">Belgium</span>
<span class="t" style="font-size:26px;line-height:26px;color:#a94459;top:1497.99px;font-weight:700;-webkit-text-stroke:0;left:528.89px;letter-spacing:0.094px;">±2</span>
<span class="t" style="font-size:26px;line-height:26px;color:#a94459;top:1497.99px;font-weight:700;-webkit-text-stroke:0;left:557.80px;transform:scaleX(0.830);transform-origin:0 0;">%</span>
<span class="t" style="font-size:24px;line-height:24px;color:#46585a;top:1498.68px;left:916.67px;letter-spacing:-0.158px;">556,644</span>
<span class="t" style="font-size:24px;line-height:24px;color:#567c26;top:1498.68px;left:1043.14px;letter-spacing:0.141px;">1</span>
<span class="t" style="font-size:24px;line-height:24px;color:#567c26;top:1498.68px;left:1056.62px;transform:scaleX(0.824);transform-origin:0 0;">%</span>
<span class="t" style="font-size:24px;line-height:24px;color:#46585a;top:1498.68px;left:1372.38px;letter-spacing:-0.158px;">582,002</span>
<span class="t" style="font-size:24px;line-height:24px;color:#46585a;top:1498.68px;left:1785.03px;letter-spacing:0.141px;">31</span>
<span class="t" style="font-size:24px;line-height:24px;color:#567c26;top:1498.68px;left:1853.84px;letter-spacing:0.141px;">0</span>
<span class="t" style="font-size:24px;line-height:24px;color:#567c26;top:1498.68px;left:1867.32px;transform:scaleX(0.824);transform-origin:0 0;">%</span>
<span class="t" style="font-size:24px;line-height:24px;color:#46585a;top:1498.68px;left:2181.25px;letter-spacing:-0.182px;">6,667.14</span>
<span class="t" style="font-size:24px;line-height:24px;color:#46585a;top:1498.68px;left:2662.25px;letter-spacing:-0.182px;">6,667.51</span>
<span class="t" style="font-size:24px;line-height:24px;color:#46585a;top:1498.68px;left:3333.36px;letter-spacing:0.044px;">0.005</span>
<span class="t" style="font-size:24px;line-height:24px;color:#46585a;top:1498.68px;left:3393.62px;transform:scaleX(0.824);transform-origin:0 0;">%</span>
<div class="b" style="left:0px;top:1594px;width:3452px;height:2px;background:#ebebeb;"></div>
<span class="t" style="font-size:24px;line-height:24px;color:#2d6a9f;top:1554.68px;left:44.30px;letter-spacing:-2.070px;">ES</span>
<span class="t" style="font-size:24px;line-height:24px;color:#46585a;top:1554.68px;left:80.34px;letter-spacing:-0.297px;">Spain</span>
<span class="t" style="font-size:26px;line-height:26px;color:#a94459;top:1553.99px;font-weight:700;-webkit-text-stroke:0;left:528.89px;letter-spacing:0.094px;">±2</span>
<span class="t" style="font-size:26px;line-height:26px;color:#a94459;top:1553.99px;font-weight:700;-webkit-text-stroke:0;left:557.80px;transform:scaleX(0.830);transform-origin:0 0;">%</span>
<span class="t" style="font-size:24px;line-height:24px;color:#46585a;top:1554.68px;left:916.67px;letter-spacing:-0.158px;">505,674</span>
<span class="t" style="font-size:24px;line-height:24px;color:#567c26;top:1554.68px;left:1043.14px;letter-spacing:0.141px;">1</span>
<span class="t" style="font-size:24px;line-height:24px;color:#567c26;top:1554.68px;left:1056.62px;transform:scaleX(0.824);transform-origin:0 0;">%</span>
<span class="t" style="font-size:24px;line-height:24px;color:#46585a;top:1554.68px;left:1372.38px;letter-spacing:-0.158px;">722,981</span>
<span class="t" style="font-size:24px;line-height:24px;color:#46585a;top:1554.68px;left:1771.55px;letter-spacing:0.141px;">553</span>
<span class="t" style="font-size:24px;line-height:24px;color:#567c26;top:1554.68px;left:1853.84px;letter-spacing:0.141px;">0</span>
<span class="t" style="font-size:24px;line-height:24px;color:#567c26;top:1554.68px;left:1867.32px;transform:scaleX(0.824);transform-origin:0 0;">%</span>
<span class="t" style="font-size:24px;line-height:24px;color:#46585a;top:1554.68px;left:2181.25px;letter-spacing:-0.182px;">2,402.74</span>
<span class="t" style="font-size:24px;line-height:24px;color:#46585a;top:1554.68px;left:2662.25px;letter-spacing:-0.182px;">2,764.67</span>
<span class="t" style="font-size:24px;line-height:24px;color:#46585a;top:1554.68px;left:3333.36px;letter-spacing:0.044px;">0.109</span>
<span class="t" style="font-size:24px;line-height:24px;color:#46585a;top:1554.68px;left:3393.62px;transform:scaleX(0.824);transform-origin:0 0;">%</span>
<div class="b" style="left:0px;top:1650px;width:3452px;height:2px;background:#ebebeb;"></div>
<span class="t" style="font-size:24px;line-height:24px;color:#2d6a9f;top:1610.68px;left:44.50px;letter-spacing:0.224px;">(empty</span>
<span class="t" style="font-size:24px;line-height:24px;color:#2d6a9f;top:1610.68px;left:125.16px;letter-spacing:-0.112px;">value)</span>
<span class="t" style="font-size:26px;line-height:26px;color:#a94459;top:1609.99px;font-weight:700;-webkit-text-stroke:0;left:528.89px;letter-spacing:0.094px;">±4</span>
<span class="t" style="font-size:26px;line-height:26px;color:#a94459;top:1609.99px;font-weight:700;-webkit-text-stroke:0;left:557.80px;transform:scaleX(0.830);transform-origin:0 0;">%</span>
<span class="t" style="font-size:24px;line-height:24px;color:#46585a;top:1610.68px;left:916.67px;letter-spacing:0.096px;">211,193</span>
<span class="t" style="font-size:24px;line-height:24px;color:#567c26;top:1610.68px;left:1043.14px;letter-spacing:0.141px;">0</span>
<span class="t" style="font-size:24px;line-height:24px;color:#567c26;top:1610.68px;left:1056.62px;transform:scaleX(0.824);transform-origin:0 0;">%</span>
<span class="t" style="font-size:24px;line-height:24px;color:#46585a;top:1610.68px;left:1372.38px;letter-spacing:-0.158px;">817,215</span>
<span class="t" style="font-size:24px;line-height:24px;color:#46585a;top:1610.68px;left:1753.34px;letter-spacing:-0.278px;">2,853</span>
<span class="t" style="font-size:24px;line-height:24px;color:#567c26;top:1610.68px;left:1853.84px;letter-spacing:0.141px;">0</span>
<span class="t" style="font-size:24px;line-height:24px;color:#567c26;top:1610.68px;left:1867.32px;transform:scaleX(0.824);transform-origin:0 0;">%</span>
<span class="t" style="font-size:24px;line-height:24px;color:#46585a;top:1610.68px;left:2199.45px;letter-spacing:0.060px;">169.10</span>
<span class="t" style="font-size:24px;line-height:24px;color:#46585a;top:1610.68px;left:2680.45px;letter-spacing:0.060px;">233.88</span>
<span class="t" style="font-size:24px;line-height:24px;color:#46585a;top:1610.68px;left:3333.36px;letter-spacing:0.044px;">1.351</span>
<span class="t" style="font-size:24px;line-height:24px;color:#46585a;top:1610.68px;left:3393.62px;transform:scaleX(0.824);transform-origin:0 0;">%</span>
<div class="b" style="left:0px;top:1706px;width:3452px;height:2px;background:#ebebeb;"></div>
<span class="t" style="font-size:24px;line-height:24px;color:#2d6a9f;top:1666.68px;left:44.30px;letter-spacing:0.094px;">MX</span>
<span class="t" style="font-size:24px;line-height:24px;color:#46585a;top:1666.68px;left:88.66px;letter-spacing:0.279px;">Mexico</span>
<span class="t" style="font-size:26px;line-height:26px;color:#a94459;top:1665.99px;font-weight:700;-webkit-text-stroke:0;left:528.89px;letter-spacing:0.094px;">±4</span>
<span class="t" style="font-size:26px;line-height:26px;color:#a94459;top:1665.99px;font-weight:700;-webkit-text-stroke:0;left:557.80px;transform:scaleX(0.830);transform-origin:0 0;">%</span>
<span class="t" style="font-size:24px;line-height:24px;color:#46585a;top:1666.68px;left:916.67px;letter-spacing:-0.158px;">200,401</span>
<span class="t" style="font-size:24px;line-height:24px;color:#567c26;top:1666.68px;left:1043.14px;letter-spacing:0.141px;">0</span>
<span class="t" style="font-size:24px;line-height:24px;color:#567c26;top:1666.68px;left:1056.62px;transform:scaleX(0.824);transform-origin:0 0;">%</span>
<span class="t" style="font-size:24px;line-height:24px;color:#46585a;top:1666.68px;left:1372.38px;letter-spacing:-0.158px;">243,100</span>
<span class="t" style="font-size:24px;line-height:24px;color:#46585a;top:1666.68px;left:1753.34px;letter-spacing:-0.278px;">3,013</span>
<span class="t" style="font-size:24px;line-height:24px;color:#567c26;top:1666.68px;left:1853.84px;letter-spacing:0.141px;">0</span>
<span class="t" style="font-size:24px;line-height:24px;color:#567c26;top:1666.68px;left:1867.32px;transform:scaleX(0.824);transform-origin:0 0;">%</span>
<span class="t" style="font-size:24px;line-height:24px;color:#46585a;top:1666.68px;left:2199.45px;letter-spacing:0.060px;">161.53</span>
<span class="t" style="font-size:24px;line-height:24px;color:#46585a;top:1666.68px;left:2680.45px;letter-spacing:0.060px;">218.00</span>
<span class="t" style="font-size:24px;line-height:24px;color:#46585a;top:1666.68px;left:3333.36px;letter-spacing:0.044px;">1.504</span>
<span class="t" style="font-size:24px;line-height:24px;color:#46585a;top:1666.68px;left:3393.62px;transform:scaleX(0.824);transform-origin:0 0;">%</span>
<div class="b" style="left:0px;top:1762px;width:3452px;height:2px;background:#ebebeb;"></div>
<span class="t" style="font-size:24px;line-height:24px;color:#2d6a9f;top:1722.68px;left:44.30px;letter-spacing:-1.164px;">AU</span>
<span class="t" style="font-size:24px;line-height:24px;color:#46585a;top:1722.68px;left:83.47px;letter-spacing:0.125px;">Australia</span>
<span class="t" style="font-size:26px;line-height:26px;color:#a94459;top:1721.99px;font-weight:700;-webkit-text-stroke:0;left:528.89px;letter-spacing:0.094px;">±4</span>
<span class="t" style="font-size:26px;line-height:26px;color:#a94459;top:1721.99px;font-weight:700;-webkit-text-stroke:0;left:557.80px;transform:scaleX(0.830);transform-origin:0 0;">%</span>
<span class="t" style="font-size:24px;line-height:24px;color:#46585a;top:1722.68px;left:916.67px;letter-spacing:-0.158px;">154,157</span>
<span class="t" style="font-size:24px;line-height:24px;color:#567c26;top:1722.68px;left:1043.14px;letter-spacing:0.141px;">0</span>
<span class="t" style="font-size:24px;line-height:24px;color:#567c26;top:1722.68px;left:1056.62px;transform:scaleX(0.824);transform-origin:0 0;">%</span>
<span class="t" style="font-size:24px;line-height:24px;color:#46585a;top:1722.68px;left:1372.38px;letter-spacing:0.096px;">311,924</span>
<span class="t" style="font-size:24px;line-height:24px;color:#46585a;top:1722.68px;left:1753.34px;letter-spacing:-0.278px;">1,815</span>
<span class="t" style="font-size:24px;line-height:24px;color:#567c26;top:1722.68px;left:1853.84px;letter-spacing:0.141px;">0</span>
<span class="t" style="font-size:24px;line-height:24px;color:#567c26;top:1722.68px;left:1867.32px;transform:scaleX(0.824);transform-origin:0 0;">%</span>
<span class="t" style="font-size:24px;line-height:24px;color:#46585a;top:1722.68px;left:2212.93px;letter-spacing:0.044px;">89.43</span>
<span class="t" style="font-size:24px;line-height:24px;color:#46585a;top:1722.68px;left:2680.45px;letter-spacing:0.060px;">126.89</span>
<span class="t" style="font-size:24px;line-height:24px;color:#46585a;top:1722.68px;left:3333.36px;letter-spacing:0.044px;">1.177</span>
<span class="t" style="font-size:24px;line-height:24px;color:#46585a;top:1722.68px;left:3393.62px;transform:scaleX(0.824);transform-origin:0 0;">%</span>
<div class="b" style="left:-20px;top:49px;width:1052px;height:813px;background:#fff;border-radius:0 0 10px 0;box-shadow:0 2px 6px rgba(0,0,0,.22),0 4px 18px rgba(0,0,0,.24);"></div>
<div class="b" style="left:0px;top:49px;width:1032px;height:65px;background:#fdf5ea;"></div>
<span class="t" style="font-size:32px;line-height:32px;color:#555;top:65.91px;left:12.00px;letter-spacing:-0.336px;">Please</span>
<span class="t" style="font-size:32px;line-height:32px;color:#555;top:65.91px;left:115.77px;letter-spacing:0.310px;">select</span>
<span class="t" style="font-size:32px;line-height:32px;color:#555;top:65.91px;left:209.16px;letter-spacing:-0.391px;">a</span>
<span class="t" style="font-size:32px;line-height:32px;color:#555;top:65.91px;left:234.50px;letter-spacing:-0.661px;">key</span>
<div class="b" style="left:314px;top:56.8px;width:384px;height:41.4px;background:#fff;border:4px solid #62a0cb;border-radius:9px;"></div>
<div class="b" style="left:330px;top:66px;width:2px;height:32px;background:#4a86c5;"></div>
<span class="t" style="font-size:27.5px;line-height:27.5px;color:#6b6b6b;top:67.72px;left:331.20px;letter-spacing:-0.289px;">Type</span>
<span class="t" style="font-size:27.5px;line-height:27.5px;color:#6b6b6b;top:67.72px;left:396.50px;letter-spacing:0.742px;">to</span>
<span class="t" style="font-size:27.5px;line-height:27.5px;color:#6b6b6b;top:67.72px;left:427.75px;letter-spacing:0.477px;">filter</span>
<span class="t" style="font-size:27.5px;line-height:27.5px;color:#6b6b6b;top:67.72px;left:489.39px;letter-spacing:-0.135px;">values</span>
<div class="b" style="left:242px;top:624px;width:289px;height:56px;background:#e0e0e0;"></div>
<span class="t" style="font-size:26px;line-height:26px;color:#46585a;top:135.39px;left:18.50px;letter-spacing:0.261px;">Network</span>
<span class="t" style="font-size:26px;line-height:26px;color:#46585a;top:191.39px;left:18.50px;letter-spacing:-0.420px;">Exchange</span>
<span class="t" style="font-size:26px;line-height:26px;color:#46585a;top:247.39px;left:18.50px;letter-spacing:-0.307px;">Pub</span>
<span class="t" style="font-size:26px;line-height:26px;color:#46585a;top:247.39px;left:70.28px;letter-spacing:-0.020px;">Name</span>
<span class="t" style="font-size:26px;line-height:26px;color:#46585a;top:303.39px;left:18.50px;letter-spacing:0.020px;">Section</span>
<span class="t" style="font-size:26px;line-height:26px;color:#46585a;top:303.39px;left:111.80px;letter-spacing:-0.930px;">ID</span>
<span class="t" style="font-size:26px;line-height:26px;color:#46585a;top:359.39px;left:18.50px;letter-spacing:-0.293px;">Creative</span>
<span class="t" style="font-size:26px;line-height:26px;color:#46585a;top:359.39px;left:119.41px;letter-spacing:-0.930px;">ID</span>
<span class="t" style="font-size:26px;line-height:26px;color:#46585a;top:415.39px;left:18.50px;letter-spacing:-0.076px;">Campaign</span>
<span class="t" style="font-size:26px;line-height:26px;color:#46585a;top:415.39px;left:142.83px;letter-spacing:-0.930px;">ID</span>
<span class="t" style="font-size:26px;line-height:26px;color:#46585a;top:471.39px;left:18.50px;letter-spacing:0.197px;">Offer</span>
<span class="t" style="font-size:26px;line-height:26px;color:#46585a;top:471.39px;left:83.23px;letter-spacing:-0.266px;">Type</span>
<span class="t" style="font-size:26px;line-height:26px;color:#46585a;top:527.39px;left:18.50px;letter-spacing:0.111px;">Advertiser</span>
<span class="t" style="font-size:26px;line-height:26px;color:#46585a;top:527.39px;left:143.08px;letter-spacing:-0.930px;">ID</span>
<span class="t" style="font-size:26px;line-height:26px;color:#46585a;top:582.19px;left:18.50px;letter-spacing:-0.142px;">Conversion</span>
<span class="t" style="font-size:26px;line-height:26px;color:#46585a;top:582.19px;left:155.02px;letter-spacing:-0.930px;">ID</span>
<span class="t" style="font-size:18px;line-height:18px;color:#9c9c9c;top:579.16px;left:184.16px;letter-spacing:-0.026px;">seg</span>
<span class="t" style="font-size:26px;line-height:26px;color:#46585a;top:638.19px;left:18.50px;letter-spacing:-0.539px;">Deal</span>
<span class="t" style="font-size:26px;line-height:26px;color:#46585a;top:638.19px;left:76.27px;letter-spacing:-0.930px;">ID</span>
<span class="t" style="font-size:18px;line-height:18px;color:#9c9c9c;top:635.16px;left:105.41px;letter-spacing:-0.026px;">seg</span>
<span class="t" style="font-size:26px;line-height:26px;color:#46585a;top:695.39px;left:18.50px;letter-spacing:-0.045px;">Detected</span>
<span class="t" style="font-size:26px;line-height:26px;color:#46585a;top:695.39px;left:128.62px;letter-spacing:-0.010px;">Domain</span>
<span class="t" style="font-size:26px;line-height:26px;color:#46585a;top:135.39px;left:257.00px;letter-spacing:-0.246px;">True</span>
<span class="t" style="font-size:26px;line-height:26px;color:#46585a;top:135.39px;left:314.94px;letter-spacing:-0.045px;">Detected</span>
<span class="t" style="font-size:26px;line-height:26px;color:#46585a;top:135.39px;left:425.06px;letter-spacing:-0.010px;">Domain</span>
<span class="t" style="font-size:26px;line-height:26px;color:#46585a;top:191.39px;left:257.00px;letter-spacing:-0.453px;">Referer</span>
<span class="t" style="font-size:26px;line-height:26px;color:#46585a;top:191.39px;left:346.95px;letter-spacing:-0.010px;">Domain</span>
<span class="t" style="font-size:26px;line-height:26px;color:#46585a;top:247.39px;left:257.00px;letter-spacing:-0.539px;">IP</span>
<span class="t" style="font-size:26px;line-height:26px;color:#46585a;top:247.39px;left:286.94px;letter-spacing:-0.010px;">Domain</span>
<span class="t" style="font-size:26px;line-height:26px;color:#46585a;top:302.19px;left:257.00px;letter-spacing:-0.073px;">Pixels</span>
<span class="t" style="font-size:26px;line-height:26px;color:#46585a;top:302.19px;left:332.38px;letter-spacing:-0.504px;">Segs</span>
<span class="t" style="font-size:18px;line-height:18px;color:#9c9c9c;top:299.16px;left:394.61px;letter-spacing:-0.026px;">seg</span>
<span class="t" style="font-size:26px;line-height:26px;color:#46585a;top:359.39px;left:257.00px;letter-spacing:0.083px;">Anomaly</span>
<span class="t" style="font-size:26px;line-height:26px;color:#46585a;top:359.39px;left:365.17px;letter-spacing:-0.112px;">Segment</span>
<span class="t" style="font-size:26px;line-height:26px;color:#46585a;top:415.39px;left:257.00px;letter-spacing:-0.130px;">Bid</span>
<span class="t" style="font-size:26px;line-height:26px;color:#46585a;top:415.39px;left:300.64px;letter-spacing:-0.009px;">Floor</span>
<span class="t" style="font-size:26px;line-height:26px;color:#46585a;top:471.39px;left:257.00px;letter-spacing:-0.029px;">Browser</span>
<span class="t" style="font-size:26px;line-height:26px;color:#46585a;top:471.39px;left:358.59px;letter-spacing:0.118px;">Version</span>
<span class="t" style="font-size:26px;line-height:26px;color:#46585a;top:527.39px;left:257.00px;letter-spacing:-0.076px;">Campaign</span>
<span class="t" style="font-size:26px;line-height:26px;color:#46585a;top:527.39px;left:381.33px;letter-spacing:-0.266px;">Type</span>
<span class="t" style="font-size:26px;line-height:26px;color:#46585a;top:583.39px;left:257.00px;letter-spacing:-0.755px;">Can</span>
<span class="t" style="font-size:26px;line-height:26px;color:#46585a;top:583.39px;left:308.88px;letter-spacing:-0.044px;">Track</span>
<span class="t" style="font-size:26px;line-height:26px;color:#46585a;top:583.39px;left:378.62px;letter-spacing:0.073px;">Clicks</span>
<span class="t" style="font-size:26px;line-height:26px;color:#46585a;top:639.39px;left:257.00px;letter-spacing:-0.105px;">Country</span>
<span class="t" style="font-size:26px;line-height:26px;color:#46585a;top:695.39px;left:257.00px;letter-spacing:-0.414px;">Device</span>
<span class="t" style="font-size:26px;line-height:26px;color:#46585a;top:695.39px;left:340.44px;letter-spacing:-0.266px;">Type</span>
<span class="t" style="font-size:26px;line-height:26px;color:#46585a;top:135.39px;left:554.50px;letter-spacing:-0.591px;">Event</span>
<span class="t" style="font-size:26px;line-height:26px;color:#46585a;top:135.39px;left:624.47px;letter-spacing:-0.266px;">Type</span>
<span class="t" style="font-size:26px;line-height:26px;color:#46585a;top:190.19px;left:554.50px;letter-spacing:-0.292px;">Google</span>
<span class="t" style="font-size:26px;line-height:26px;color:#46585a;top:190.19px;left:643.02px;letter-spacing:0.368px;">Verticals</span>
<span class="t" style="font-size:18px;line-height:18px;color:#9c9c9c;top:187.16px;left:749.58px;letter-spacing:-0.026px;">seg</span>
<span class="t" style="font-size:26px;line-height:26px;color:#46585a;top:247.39px;left:554.50px;letter-spacing:-0.117px;">In</span>
<span class="t" style="font-size:26px;line-height:26px;color:#46585a;top:247.39px;left:582.39px;letter-spacing:-0.031px;">App</span>
<span class="t" style="font-size:26px;line-height:26px;color:#46585a;top:303.39px;left:554.50px;letter-spacing:-0.211px;">Language</span>
<span class="t" style="font-size:26px;line-height:26px;color:#46585a;top:359.39px;left:554.50px;letter-spacing:0.406px;">Lifetime</span>
<span class="t" style="font-size:26px;line-height:26px;color:#46585a;top:359.39px;left:655.22px;letter-spacing:-0.359px;">Frequency</span>
<span class="t" style="font-size:26px;line-height:26px;color:#46585a;top:415.39px;left:554.50px;letter-spacing:-0.411px;">Region</span>
<span class="t" style="font-size:26px;line-height:26px;color:#46585a;top:471.39px;left:554.50px;letter-spacing:0.043px;">Hour</span>
<span class="t" style="font-size:26px;line-height:26px;color:#46585a;top:528.99px;left:554.50px;letter-spacing:-0.250px;">Year</span>
<svg class="b" style="left:610.515625px;top:519.9px;" width="31.2" height="31.2" viewBox="0 0 24 24"><path fill="#8a8a8a" stroke="#8a8a8a" stroke-width="0.3" d="M11.99 2C6.47 2 2 6.48 2 12s4.47 10 9.99 10C17.520 22 22 17.52 22 12S17.52 2 11.99 2zM12 20c-4.42 0-8-3.58-8-8s3.58-8 8-8 8 3.58 8 8-3.58 8-8 8zm.5-13H11v6l5.25 3.15.75-1.23-4.5-2.67z"/></svg>
<span class="t" style="font-size:26px;line-height:26px;color:#46585a;top:584.99px;left:554.50px;letter-spacing:-0.172px;">Quarter</span>
<svg class="b" style="left:645.90625px;top:575.9px;" width="31.2" height="31.2" viewBox="0 0 24 24"><path fill="#8a8a8a" stroke="#8a8a8a" stroke-width="0.3" d="M11.99 2C6.47 2 2 6.48 2 12s4.47 10 9.99 10C17.520 22 22 17.52 22 12S17.52 2 11.99 2zM12 20c-4.42 0-8-3.58-8-8s3.58-8 8-8 8 3.58 8 8-3.58 8-8 8zm.5-13H11v6l5.25 3.15.75-1.23-4.5-2.67z"/></svg>
<span class="t" style="font-size:26px;line-height:26px;color:#46585a;top:640.99px;left:554.50px;letter-spacing:0.497px;">Month</span>
<svg class="b" style="left:633.71875px;top:631.9px;" width="31.2" height="31.2" viewBox="0 0 24 24"><path fill="#8a8a8a" stroke="#8a8a8a" stroke-width="0.3" d="M11.99 2C6.47 2 2 6.48 2 12s4.47 10 9.99 10C17.520 22 22 17.52 22 12S17.52 2 11.99 2zM12 20c-4.42 0-8-3.58-8-8s3.58-8 8-8 8 3.58 8 8-3.58 8-8 8zm.5-13H11v6l5.25 3.15.75-1.23-4.5-2.67z"/></svg>
<span class="t" style="font-size:26px;line-height:26px;color:#46585a;top:696.99px;left:554.50px;letter-spacing:-0.645px;">Week</span>
<svg class="b" style="left:622.40625px;top:687.9px;" width="31.2" height="31.2" viewBox="0 0 24 24"><path fill="#8a8a8a" stroke="#8a8a8a" stroke-width="0.3" d="M11.99 2C6.47 2 2 6.48 2 12s4.47 10 9.99 10C17.520 22 22 17.52 22 12S17.52 2 11.99 2zM12 20c-4.42 0-8-3.58-8-8s3.58-8 8-8 8 3.58 8 8-3.58 8-8 8zm.5-13H11v6l5.25 3.15.75-1.23-4.5-2.67z"/></svg>
<span class="t" style="font-size:26px;line-height:26px;color:#46585a;top:136.99px;left:818.00px;letter-spacing:-0.974px;">Day</span>
<svg class="b" style="left:865.8125px;top:127.89999999999999px;" width="31.2" height="31.2" viewBox="0 0 24 24"><path fill="#8a8a8a" stroke="#8a8a8a" stroke-width="0.3" d="M11.99 2C6.47 2 2 6.48 2 12s4.47 10 9.99 10C17.520 22 22 17.52 22 12S17.52 2 11.99 2zM12 20c-4.42 0-8-3.58-8-8s3.58-8 8-8 8 3.58 8 8-3.58 8-8 8zm.5-13H11v6l5.25 3.15.75-1.23-4.5-2.67z"/></svg>
<span class="t" style="font-size:26px;line-height:26px;color:#46585a;top:192.99px;left:818.00px;letter-spacing:-0.974px;">Day</span>
<span class="t" style="font-size:26px;line-height:26px;color:#46585a;top:192.99px;left:867.77px;letter-spacing:-1.172px;">&amp;</span>
<span class="t" style="font-size:26px;line-height:26px;color:#46585a;top:192.99px;left:890.39px;letter-spacing:0.043px;">Hour</span>
<svg class="b" style="left:951.40625px;top:183.9px;" width="31.2" height="31.2" viewBox="0 0 24 24"><path fill="#8a8a8a" stroke="#8a8a8a" stroke-width="0.3" d="M11.99 2C6.47 2 2 6.48 2 12s4.47 10 9.99 10C17.520 22 22 17.52 22 12S17.52 2 11.99 2zM12 20c-4.42 0-8-3.58-8-8s3.58-8 8-8 8 3.58 8 8-3.58 8-8 8zm.5-13H11v6l5.25 3.15.75-1.23-4.5-2.67z"/></svg>
<div class="b" style="left:839px;top:790px;width:169px;height:56px;background:#fff;border-radius:10px;box-shadow:0 3px 6px rgba(0,0,0,.27),0 1px 2px rgba(0,0,0,.10);"></div>
<span class="t" style="font-size:26px;line-height:26px;color:#46585a;top:804.99px;left:863.01px;letter-spacing:-0.385px;">Create</span>
<span class="t" style="font-size:26px;line-height:26px;color:#46585a;top:804.99px;left:945.16px;letter-spacing:-0.542px;">key</span>
</div></body></html>
